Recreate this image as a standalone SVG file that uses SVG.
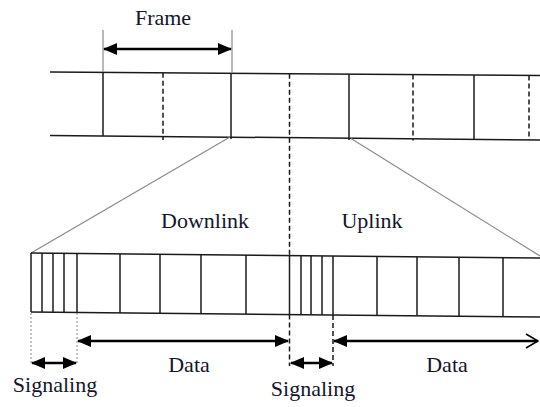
<svg xmlns="http://www.w3.org/2000/svg" width="540" height="407" viewBox="0 0 540 407">
<style>
.ln{stroke:#1a1a1a;stroke-width:1.5;fill:none}
.ds{stroke:#1a1a1a;stroke-width:1.5;stroke-dasharray:5 3;fill:none}
.gr{stroke:#8a8a8a;stroke-width:1.2;fill:none}
.gd{stroke:#9a9a9a;stroke-width:1.2;stroke-dasharray:2 2;fill:none}
.ar{stroke:#000;stroke-width:2.6;fill:none}
.ar2{stroke:#000;stroke-width:2;fill:none}
text{font-family:"Liberation Serif","Times New Roman",serif;font-size:22px;fill:#15152a;text-anchor:middle}
</style>
<defs>
<marker id="ah" markerUnits="userSpaceOnUse" markerWidth="14" markerHeight="12" viewBox="0 0 14 12" refX="13" refY="6" orient="auto-start-reverse">
<path d="M0,0 L14,6 L0,12 Z" fill="#000"/>
</marker>
<marker id="open" markerUnits="userSpaceOnUse" markerWidth="14" markerHeight="16" viewBox="0 0 14 16" refX="13" refY="8" orient="auto">
<path d="M1,1 L13,8 L1,15" fill="none" stroke="#000" stroke-width="1.6"/>
</marker>
</defs>

<g id="frame-strip">
<line class="ln" x1="50" y1="72" x2="540" y2="75.5"/>
<line class="ln" x1="50" y1="135.5" x2="540" y2="140"/>
<line class="ln" x1="103" y1="72.4" x2="103" y2="136"/>
<line class="ds" x1="163" y1="72.8" x2="163" y2="140"/>
<line class="ln" x1="231" y1="73.3" x2="231" y2="139"/>
<line class="ln" x1="349" y1="74.1" x2="349" y2="140"/>
<line class="ds" x1="413" y1="74.6" x2="413" y2="140.5"/>
<line class="ln" x1="474" y1="75" x2="474" y2="139.4"/>
<line class="ds" x1="529" y1="75.4" x2="529" y2="140"/>
</g>

<g id="split-line">
<line class="ds" x1="289.5" y1="73.7" x2="289.5" y2="255.5"/>
<line class="ds" x1="289.5" y1="314.5" x2="289.5" y2="366"/>
</g>

<g id="zoom-lines">
<line class="gr" x1="230" y1="137" x2="31" y2="253"/>
<line class="gr" x1="351" y1="138.5" x2="540" y2="256"/>
</g>

<g id="subframe-strip">
<line class="ln" x1="31" y1="253" x2="540" y2="258"/>
<line class="ln" x1="31" y1="312" x2="540" y2="317"/>
<line class="ln" x1="31" y1="253" x2="31" y2="312"/>
<line class="ln" x1="42" y1="253.1" x2="42" y2="312.1"/>
<line class="ln" x1="53" y1="253.2" x2="53" y2="312.2"/>
<line class="ln" x1="64" y1="253.3" x2="64" y2="312.3"/>
<line class="ln" x1="77" y1="253.5" x2="77" y2="312.5"/>
<line class="ln" x1="120" y1="253.9" x2="120" y2="312.9"/>
<line class="ln" x1="160" y1="254.3" x2="160" y2="313.3"/>
<line class="ln" x1="201" y1="254.7" x2="201" y2="313.7"/>
<line class="ln" x1="246" y1="255.1" x2="246" y2="314.1"/>
<line class="ln" x1="289.5" y1="255.5" x2="289.5" y2="314.5"/>
<line class="ln" x1="301" y1="255.7" x2="301" y2="314.7"/>
<line class="ln" x1="311" y1="255.8" x2="311" y2="314.8"/>
<line class="ln" x1="322" y1="255.9" x2="322" y2="314.9"/>
<line class="ln" x1="333" y1="256" x2="333" y2="315"/>
<line class="ln" x1="377" y1="256.4" x2="377" y2="315.4"/>
<line class="ln" x1="417" y1="256.8" x2="417" y2="315.8"/>
<line class="ln" x1="459" y1="257.2" x2="459" y2="316.2"/>
<line class="ln" x1="503" y1="257.6" x2="503" y2="316.6"/>
</g>

<g id="connectors">
<line class="gr" x1="103" y1="30" x2="103" y2="72"/>
<line class="gr" x1="232" y1="30" x2="232" y2="73"/>
<line class="ar" x1="104" y1="49" x2="231" y2="49" marker-start="url(#ah)" marker-end="url(#ah)"/>
<line class="gd" x1="31" y1="313" x2="31" y2="365"/>
<line class="gd" x1="77" y1="313" x2="77" y2="365"/>
<line class="ar" x1="32" y1="363" x2="76" y2="363" marker-start="url(#ah)" marker-end="url(#ah)"/>
<line class="ar" x1="78" y1="341" x2="288" y2="341" marker-start="url(#ah)" marker-end="url(#ah)"/>
<line class="ds" x1="333" y1="315" x2="333" y2="366"/>
<line class="ar" x1="291" y1="363" x2="332" y2="363" marker-start="url(#ah)" marker-end="url(#ah)"/>
<line class="ar" x1="334" y1="341" x2="538" y2="341" marker-start="url(#ah)"/>
<line class="ar2" x1="520" y1="341" x2="538" y2="341" marker-end="url(#open)"/>
</g>

<g id="labels">
<text x="163" y="25">Frame</text>
<text x="205" y="228">Downlink</text>
<text x="372" y="228">Uplink</text>
<text x="189" y="372">Data</text>
<text x="447" y="372">Data</text>
<text x="55" y="392">Signaling</text>
<text x="313" y="396">Signaling</text>
</g>
</svg>
